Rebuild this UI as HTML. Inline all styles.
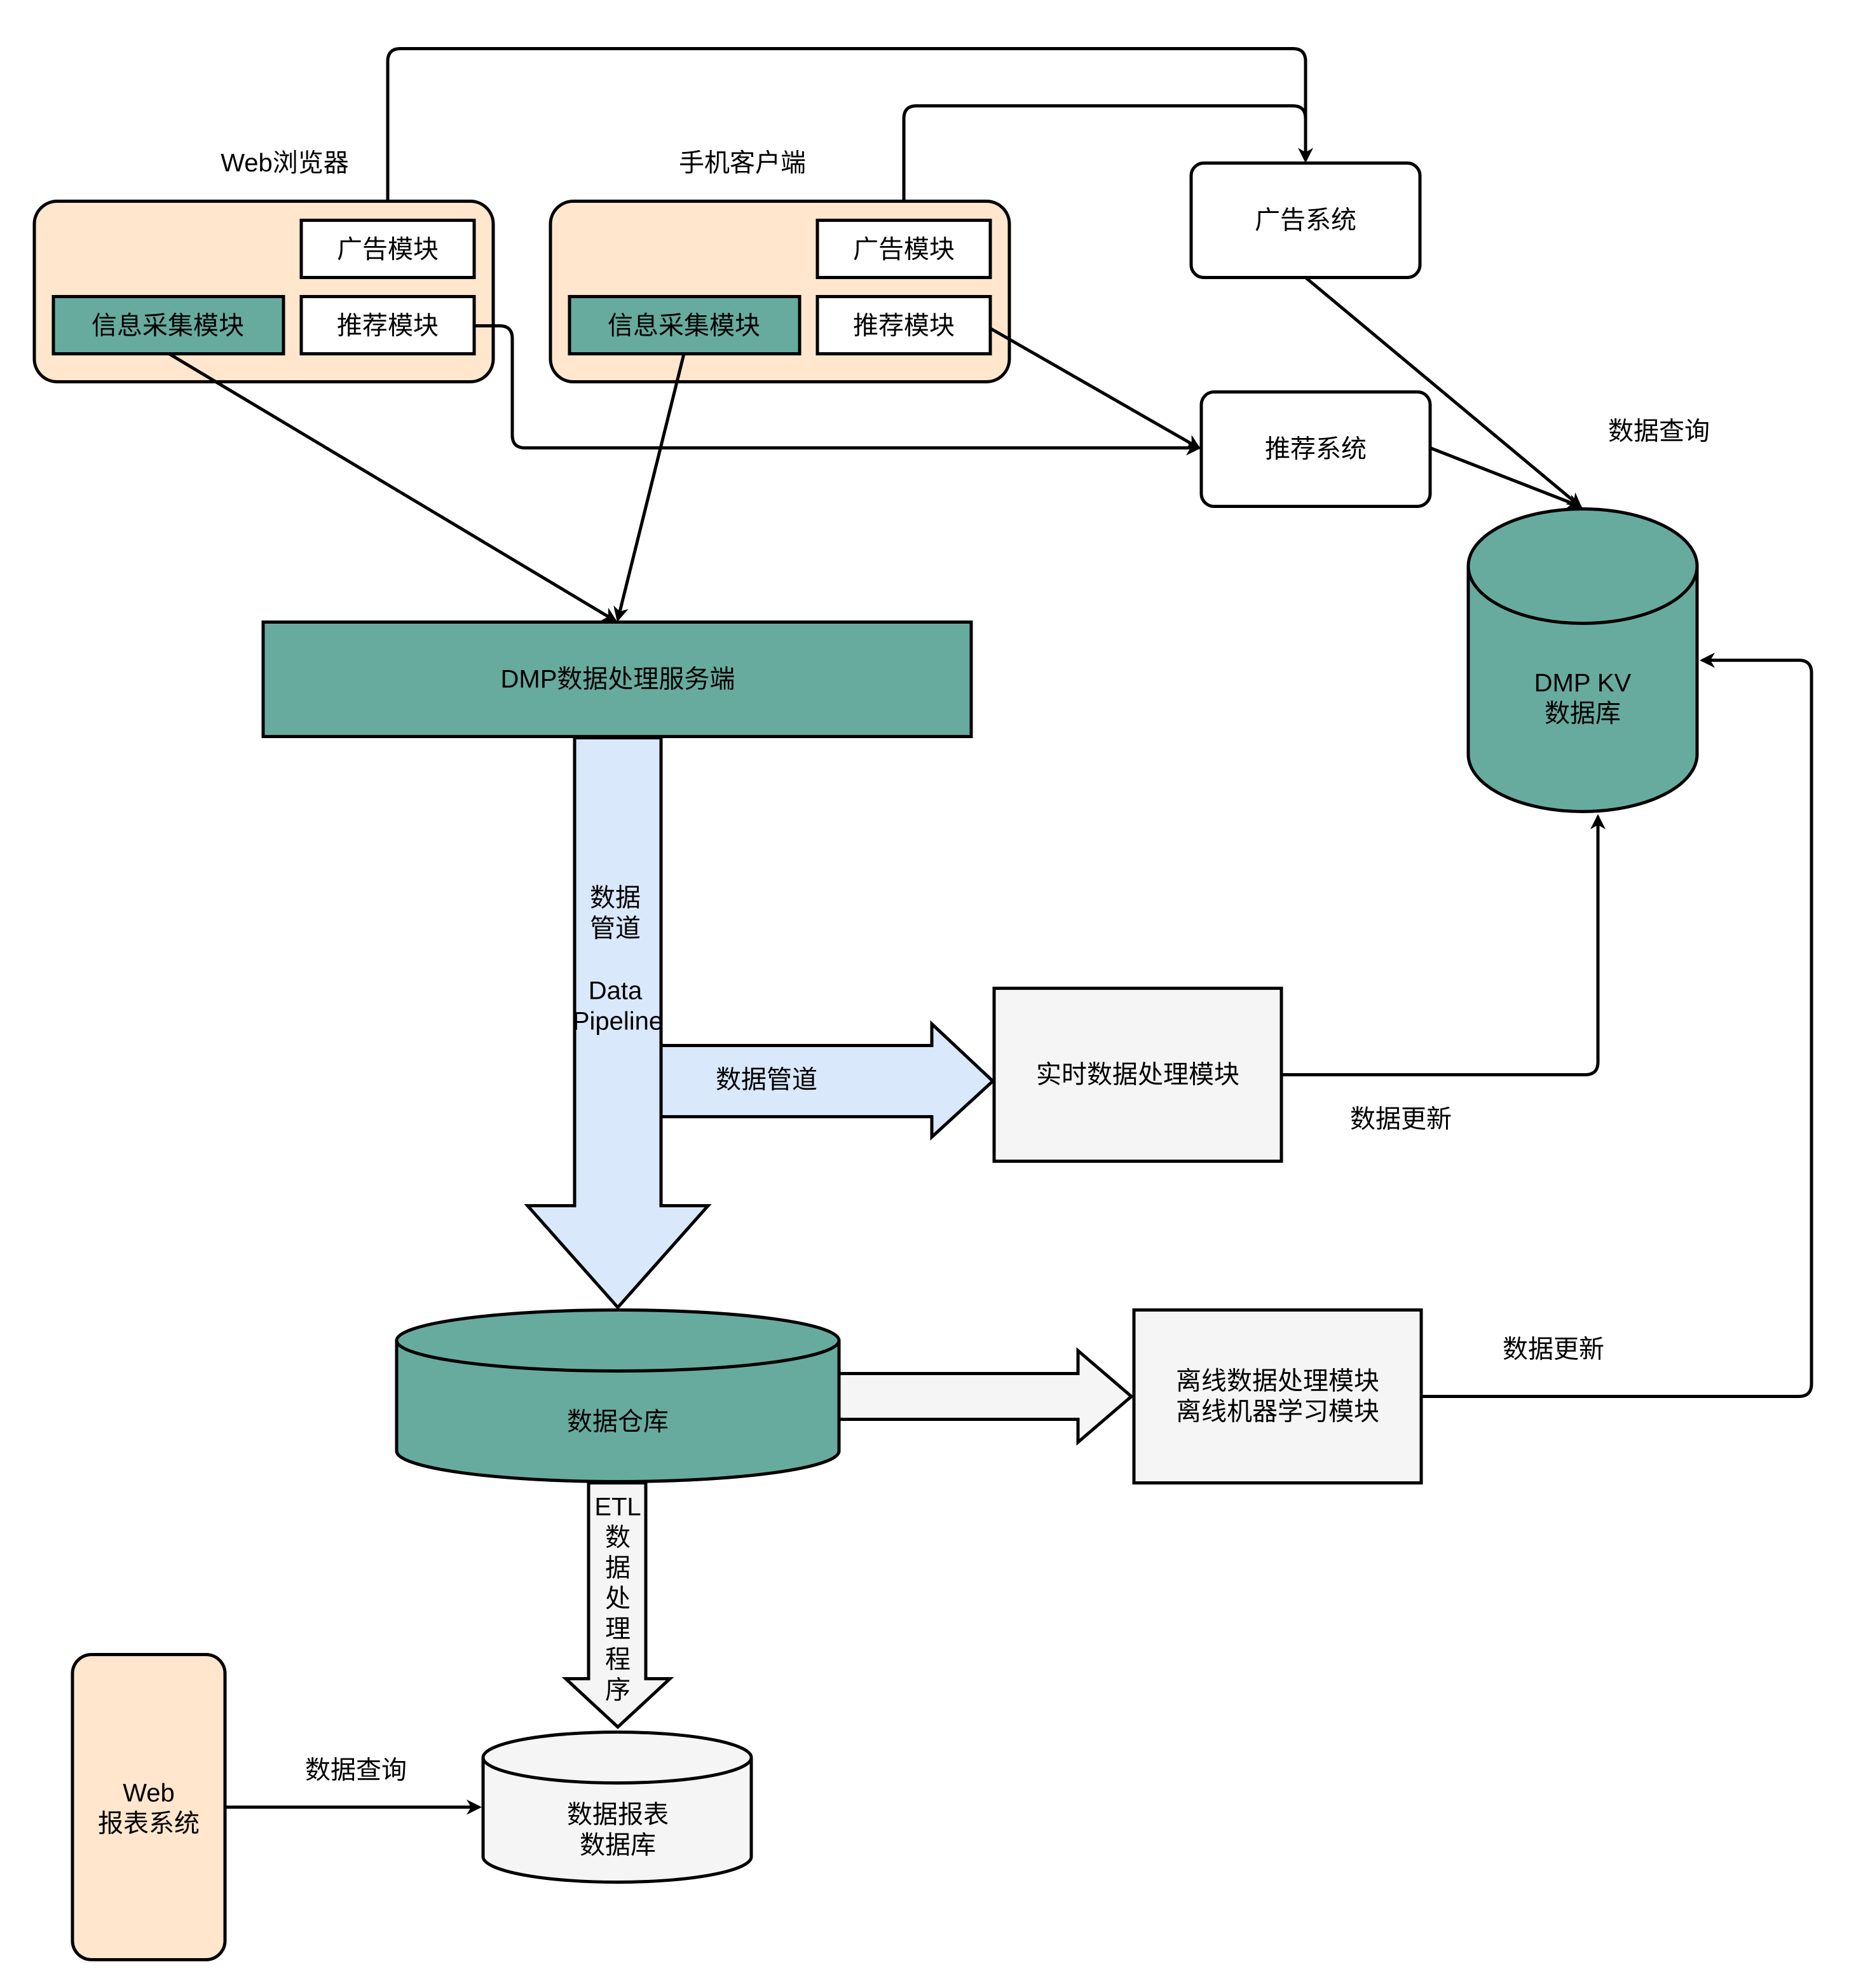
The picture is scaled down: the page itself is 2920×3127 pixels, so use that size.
<!DOCTYPE html>
<html><head><meta charset="utf-8">
<style>
html,body{margin:0;padding:0;background:#fff;}
svg{display:block;}
text{font-family:"Liberation Sans","Noto Sans CJK SC",sans-serif;font-size:20px;fill:#000;text-anchor:middle;dominant-baseline:central;}
</style></head>
<body>
<svg width="2920" height="3127" viewBox="0 0 1460 1563" xmlns="http://www.w3.org/2000/svg">
<defs>
<marker id="a" markerWidth="12" markerHeight="12" refX="10" refY="6" orient="auto" markerUnits="userSpaceOnUse" viewBox="0 0 12 12">
<path d="M0,0 L12,6 L0,12 L3.5,6 Z" fill="#000"/>
</marker>
</defs>
<g stroke="#000" stroke-width="2.5" fill="none">
<path d="M305,173 V48 Q305,38 315,38 H1017 Q1027,38 1027,48 V126" marker-end="url(#a)"/>
<path d="M711,173 V93 Q711,83 721,83 H1017 Q1027,83 1027,93 V126"/>
</g>
<rect x="27" y="158" width="361" height="142" rx="18" fill="#ffe6cc" stroke="#000" stroke-width="2.5"/>
<rect x="433" y="158" width="361" height="142" rx="18" fill="#ffe6cc" stroke="#000" stroke-width="2.5"/>
<g stroke="#000" stroke-width="2.5">
<rect x="237" y="173" width="136" height="45" fill="#fff"/>
<rect x="237" y="233" width="136" height="45" fill="#fff"/>
<rect x="42" y="233" width="181" height="45" fill="#67ab9f"/>
<rect x="643" y="173" width="136" height="45" fill="#fff"/>
<rect x="643" y="233" width="136" height="45" fill="#fff"/>
<rect x="448" y="233" width="181" height="45" fill="#67ab9f"/>
<rect x="937" y="128" width="180" height="90" rx="10" fill="#fff"/>
<rect x="945" y="308" width="180" height="90" rx="10" fill="#fff"/>
<rect x="207" y="489" width="557" height="90" fill="#67ab9f"/>
<rect x="782" y="777" width="226" height="136" fill="#f5f5f5"/>
<rect x="892" y="1030" width="226" height="136" fill="#f5f5f5"/>
<rect x="57" y="1301" width="120" height="240" rx="15" fill="#ffe6cc"/>
<path d="M1155,445 A90,45 0 0 1 1335,445 V593 A90,45 0 0 1 1155,593 Z" fill="#67ab9f"/>
<path d="M1155,445 A90,45 0 0 0 1335,445" fill="none"/>
<path d="M312,1054 A174,24 0 0 1 660,1054 V1141 A174,24 0 0 1 312,1141 Z" fill="#67ab9f"/>
<path d="M312,1054 A174,24 0 0 0 660,1054" fill="none"/>
<path d="M380,1382 A105.5,20 0 0 1 591,1382 V1460 A105.5,20 0 0 1 380,1460 Z" fill="#f5f5f5"/>
<path d="M380,1382 A105.5,20 0 0 0 591,1382" fill="none"/>
<path d="M452,580 H520 V948 H557 L486,1028 L415,948 H452 Z" fill="#dae8fc"/>
<path d="M520,822 H733 V805 L781,850 L733,894 V878 H520 Z" fill="#dae8fc"/>
<path d="M660,1080 H848 V1062 L890,1098 L848,1134 V1116 H660 Z" fill="#f5f5f5"/>
<path d="M463,1166 H508 V1320 H527 L486,1358 L445,1320 H463 Z" fill="#f5f5f5"/>
</g>
<g stroke="#000" stroke-width="2.5" fill="none">
<path d="M373,256 H393 Q403,256 403,266 V342 Q403,352 413,352 H943" marker-end="url(#a)"/>
<path d="M779,258 L943,352" marker-end="url(#a)"/>
<path d="M133,278 L484,488" marker-end="url(#a)"/>
<path d="M538,278 L486,487" marker-end="url(#a)"/>
<path d="M1027,218 L1243,398" marker-end="url(#a)"/>
<path d="M1125,352 L1243,398" marker-end="url(#a)"/>
<path d="M1008,845 H1247 Q1257,845 1257,835 V642" marker-end="url(#a)"/>
<path d="M1118,1098 H1415 Q1425,1098 1425,1088 V529 Q1425,519 1415,519 H1339" marker-end="url(#a)"/>
<path d="M177,1421 H377" marker-end="url(#a)"/>
</g>
<text x="224" y="128">Web浏览器</text>
<text x="584" y="128">手机客户端</text>
<text x="305" y="196" fill="#333">广告模块</text>
<text x="305" y="256" fill="#333">推荐模块</text>
<text x="132" y="256">信息采集模块</text>
<text x="711" y="196" fill="#333">广告模块</text>
<text x="711" y="256" fill="#333">推荐模块</text>
<text x="538" y="256">信息采集模块</text>
<text x="1027" y="173" fill="#333">广告系统</text>
<text x="1035" y="353" fill="#333">推荐系统</text>
<text x="1305" y="339">数据查询</text>
<text x="1245" y="537">DMP KV</text>
<text x="1245" y="561">数据库</text>
<text x="486" y="534" fill="#333">DMP数据处理服务端</text>
<text x="484" y="706">数据</text>
<text x="484" y="730">管道</text>
<text x="484" y="779">Data</text>
<text x="486" y="803">Pipeline</text>
<text x="603" y="849">数据管道</text>
<text x="895" y="845" fill="#333">实时数据处理模块</text>
<text x="1102" y="880">数据更新</text>
<text x="1222" y="1061">数据更新</text>
<text x="486" y="1118">数据仓库</text>
<text x="1005" y="1086" fill="#333">离线数据处理模块</text>
<text x="1005" y="1110" fill="#333">离线机器学习模块</text>
<text x="486" y="1185">ETL</text>
<text x="486" y="1209">数</text>
<text x="486" y="1233">据</text>
<text x="486" y="1257">处</text>
<text x="486" y="1281">理</text>
<text x="486" y="1305">程</text>
<text x="486" y="1329">序</text>
<text x="117" y="1410">Web</text>
<text x="117" y="1434">报表系统</text>
<text x="280" y="1392">数据查询</text>
<text x="486" y="1427" fill="#333">数据报表</text>
<text x="486" y="1451" fill="#333">数据库</text>
</svg>
</body></html>
